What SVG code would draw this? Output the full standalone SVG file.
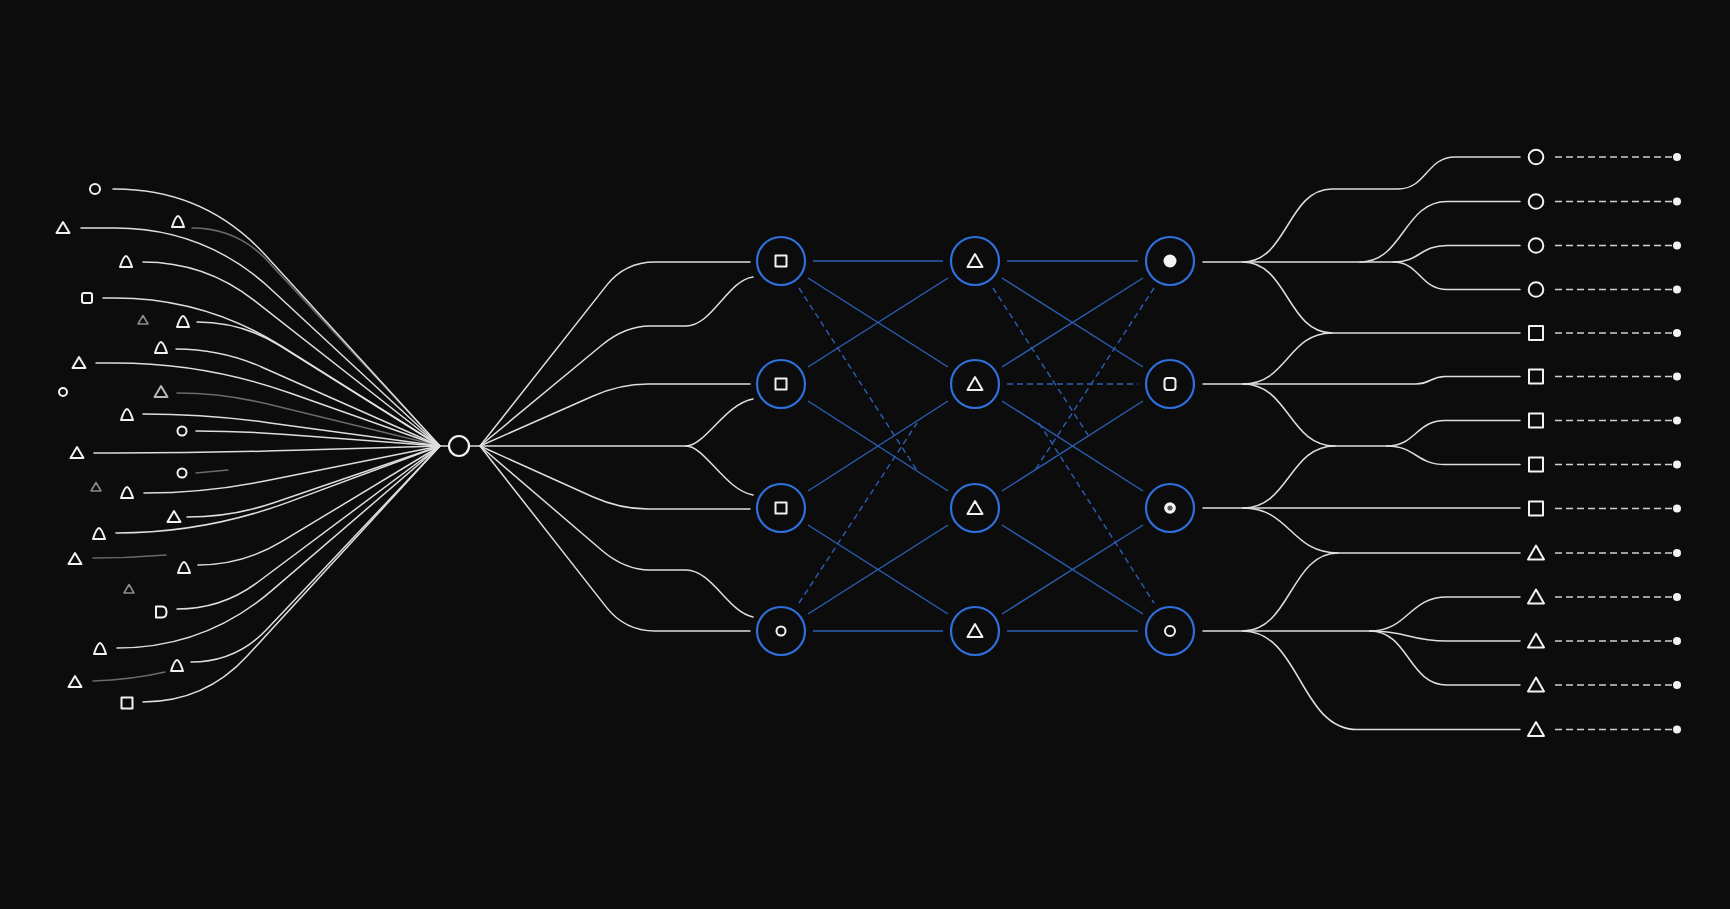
<svg xmlns="http://www.w3.org/2000/svg" xmlns:xlink="http://www.w3.org/1999/xlink" width="1730" height="909" viewBox="0 0 1730 909">
<style>
.bg{fill:#0c0c0c}
.w{fill:none;stroke:#dedede;stroke-width:1.5;stroke-linecap:round;stroke-linejoin:round}
.faint{opacity:.45}
.b{fill:none;stroke:#2b5fb4;stroke-width:1.4}
.bd{fill:none;stroke:#2b5fb4;stroke-width:1.4;stroke-dasharray:6 4}
.ring{fill:#0c0c0c;stroke:#2f70dc;stroke-width:2.2}
.ico{fill:none;stroke:#f2f2f2;stroke-width:2;stroke-linejoin:round}
.ghost{fill:none;stroke:#8a8a8a;stroke-width:1.6;stroke-linejoin:round}
.dash{fill:none;stroke:#cfcfcf;stroke-width:1.5;stroke-dasharray:7 4}
.dot{fill:#f2f2f2}
</style>
<defs>
<path id="tri" d="M0,-6 L6.5,5 L-6.5,5 Z"/>
<path id="dome" d="M-6,5 C-4.5,0.5 -2.2,-6 0,-6 C2.2,-6 4.5,0.5 6,5 Z"/>
<rect id="sq" x="-5.5" y="-5.5" width="11" height="11"/>
<rect id="rsq" x="-5" y="-5" width="10" height="10" rx="2"/>
<path id="dsh" d="M-5,-5.5 H1 Q5.5,-5.5 5.5,0 Q5.5,5.5 1,5.5 H-5 Z"/>
<path id="gtri" d="M0,-4.5 L5,4 L-5,4 Z"/>
<path id="otri" d="M0,-7.5 L8,6.5 L-8,6.5 Z"/>
</defs>
<rect class="bg" x="0" y="0" width="1730" height="909"/>

<g id="connectors">
<!-- input fan into hub -->
<g class="w">
<path d="M113,189 H115 Q205,189 265.7,255.4 L440,446"/>
<path d="M81,228 H115 Q205,228 271,289.2 L440,446"/>
<path class="faint" d="M192,228 Q237,228 267.6,260.9 L440,446"/>
<path d="M143,262 Q205,262 253.8,300.2 L440,446"/>
<path d="M103,298 H115 Q205,298 281.1,346 L440,446"/>
<path d="M197,322 Q242,322 280.2,345.9 L440,446"/>
<path d="M176,349 Q221,349 262.1,367.2 L440,446"/>
<path d="M96,363 H115 Q205,363 289.9,393 L440,446"/>
<path class="faint" d="M177,393 Q222,393 265.7,403.6 L440,446"/>
<path d="M143,414 Q205,414 266.4,422.4 L440,446"/>
<path d="M196,431 Q241,431 285.9,434.4 L440,446"/>
<path d="M94,453 H115 Q205,453 295,450.3 L440,446"/>
<path class="faint" d="M196,473 L228,470"/>
<path d="M144,493 Q205,493 264.8,481 L440,446"/>
<path d="M187,517 Q232,517 274.6,502.5 L440,446"/>
<path d="M116,533 Q205,533 288.5,502.1 L440,446"/>
<path class="faint" d="M93,558 Q130,558 166,555"/>
<path d="M198,565 Q243,565 281.5,541.7 L440,446"/>
<path d="M177,609 Q222,609 258,582 L440,446"/>
<path d="M117,648 Q205,648 271.7,590.6 L440,446"/>
<path d="M191,662 Q236,662 266.9,629.3 L440,446"/>
<path class="faint" d="M93,681 Q130,680 165,672"/>
<path d="M143,702 Q205,702 246.9,656.3 L440,446"/>
<path d="M440,446 H449"/>
</g>
<!-- hub to first layer -->
<g class="w">
<path d="M469,446 H480 L606.4,285.6 Q625,262 655,262 H750"/>
<path d="M480,446 L602,345 Q625,326 650,326 H686 C712,326 728,280 753,277"/>
<path d="M480,446 L592.6,396.2 Q620,384 648,384 H750"/>
<path d="M480,446 H686 C705,446 725,404 753,399"/>
<path d="M686,446 C705,446 725,490 753,495"/>
<path d="M480,446 L592.6,496.7 Q620,509 648,509 H750"/>
<path d="M480,446 L602,550.5 Q625,570 650,570 H686 C712,570 728,612 753,617"/>
<path d="M480,446 L606.5,607.4 Q625,631 655,631 H750"/>
</g>
<!-- layer 1 to layer 2 -->
<g class="b">
<path d="M813,261 H943"/>
<path d="M808,278 L948,367"/>
<path d="M808,367 L948,278"/>
<path d="M808,401 L948,491"/>
<path d="M808,491 L948,401"/>
<path d="M808,525 L948,614"/>
<path d="M808,614 L948,525"/>
<path d="M813,631 H943"/>
</g>
<g class="bd">
<path d="M799,288 L918,472"/>
<path d="M799,603 L917,423"/>
</g>
<!-- layer 2 to layer 3 -->
<g class="b">
<path d="M1007,261 H1138"/>
<path d="M1002,278 L1143,367"/>
<path d="M1002,367 L1143,278"/>
<path d="M1002,401 L1143,491"/>
<path d="M1002,491 L1143,401"/>
<path d="M1002,525 L1143,614"/>
<path d="M1002,614 L1143,525"/>
<path d="M1007,631 H1138"/>
</g>
<g class="bd">
<path d="M1007,384 H1138"/>
<path d="M993,288 L1088,435"/>
<path d="M1154,288 L1035,470"/>
<path d="M1039,423 L1154,603"/>
</g>
<!-- output tree -->
<g class="w">
<path d="M1203,262 H1243 C1287.5,262 1287.5,189 1332,189 H1398 C1426.5,189 1426.5,157 1455,157 H1520"/>
<path d="M1243,262 H1360 C1403.5,262 1403.5,201.5 1447,201.5 H1520"/>
<path d="M1360,262 H1393 C1420,262 1420,245.5 1447,245.5 H1520"/>
<path d="M1393,262 C1420,262 1420,289.5 1447,289.5 H1520"/>
<path d="M1243,262 C1287.5,262 1287.5,333 1332,333 H1520"/>
<path d="M1203,384 H1243 C1287.5,384 1287.5,333 1332,333"/>
<path d="M1243,384 H1416 C1430.5,384 1430.5,376.5 1445,376.5 H1520"/>
<path d="M1243,384 C1289,384 1289,446 1335,446 H1387"/>
<path d="M1387,446 C1416,446 1416,420.5 1445,420.5 H1520"/>
<path d="M1387,446 C1416,446 1416,464.5 1445,464.5 H1520"/>
<path d="M1203,508 H1520"/>
<path d="M1243,508 C1289,508 1289,446 1335,446"/>
<path d="M1243,508 C1290.5,508 1290.5,553 1338,553 H1520"/>
<path d="M1203,631 H1370"/>
<path d="M1243,631 C1290.5,631 1290.5,553 1338,553"/>
<path d="M1370,631 C1408.5,631 1408.5,597 1447,597 H1520"/>
<path d="M1370,631 C1408.5,631 1408.5,641 1447,641 H1520"/>
<path d="M1370,631 C1408.5,631 1408.5,685 1447,685 H1520"/>
<path d="M1243,631 C1300,631 1300,729.5 1357,729.5 H1520"/>
</g>
<g class="dash">
<path d="M1555,157 H1673"/>
<path d="M1555,201.5 H1673"/>
<path d="M1555,245.5 H1673"/>
<path d="M1555,289.5 H1673"/>
<path d="M1555,333 H1673"/>
<path d="M1555,376.5 H1673"/>
<path d="M1555,420.5 H1673"/>
<path d="M1555,464.5 H1673"/>
<path d="M1555,508.5 H1673"/>
<path d="M1555,553 H1673"/>
<path d="M1555,597 H1673"/>
<path d="M1555,641 H1673"/>
<path d="M1555,685 H1673"/>
<path d="M1555,729.5 H1673"/>
</g>
</g>

<!-- input icons -->
<g id="in-01"><circle class="ico" cx="95" cy="189" r="5"/></g>
<g id="in-02"><use class="ico" href="#tri" x="63" y="228"/></g>
<g id="in-03"><use class="ico" href="#dome" x="178" y="222"/></g>
<g id="in-04"><use class="ico" href="#dome" x="126" y="262"/></g>
<g id="in-05"><use class="ico" href="#rsq" x="87" y="298"/></g>
<g id="in-06"><use class="ghost" href="#gtri" x="143" y="320"/></g>
<g id="in-07"><use class="ico" href="#dome" x="183" y="322"/></g>
<g id="in-08"><use class="ico" href="#dome" x="161" y="348"/></g>
<g id="in-09"><use class="ico" href="#tri" x="79" y="363"/></g>
<g id="in-10"><circle class="ico" cx="63" cy="392" r="4"/></g>
<g id="in-11"><use class="ico" href="#tri" x="161" y="392" opacity="0.75"/></g>
<g id="in-12"><use class="ico" href="#dome" x="127" y="415"/></g>
<g id="in-13"><circle class="ico" cx="182" cy="431" r="4.5"/></g>
<g id="in-14"><use class="ico" href="#tri" x="77" y="453"/></g>
<g id="in-15"><circle class="ico" cx="182" cy="473" r="4.5"/></g>
<g id="in-16"><use class="ghost" href="#gtri" x="96" y="487"/></g>
<g id="in-17"><use class="ico" href="#dome" x="127" y="493"/></g>
<g id="in-18"><use class="ico" href="#tri" x="174" y="517"/></g>
<g id="in-19"><use class="ico" href="#dome" x="99" y="534"/></g>
<g id="in-20"><use class="ico" href="#tri" x="75" y="559"/></g>
<g id="in-21"><use class="ico" href="#dome" x="184" y="568"/></g>
<g id="in-22"><use class="ghost" href="#gtri" x="129" y="589"/></g>
<g id="in-23"><use class="ico" href="#dsh" x="161" y="612"/></g>
<g id="in-24"><use class="ico" href="#dome" x="100" y="649"/></g>
<g id="in-25"><use class="ico" href="#dome" x="177" y="666"/></g>
<g id="in-26"><use class="ico" href="#tri" x="75" y="682"/></g>
<g id="in-27"><use class="ico" href="#sq" x="127" y="703"/></g>

<!-- hub -->
<g id="hub"><circle cx="459" cy="446" r="10" fill="#0c0c0c" stroke="#f2f2f2" stroke-width="2.2"/></g>

<!-- layer 1 -->
<g id="l1-r1"><circle class="ring" cx="781" cy="261" r="24"/><rect class="ico" x="775.5" y="255.5" width="11" height="11"/></g>
<g id="l1-r2"><circle class="ring" cx="781" cy="384" r="24"/><rect class="ico" x="775.5" y="378.5" width="11" height="11"/></g>
<g id="l1-r3"><circle class="ring" cx="781" cy="508" r="24"/><rect class="ico" x="775.5" y="502.5" width="11" height="11"/></g>
<g id="l1-r4"><circle class="ring" cx="781" cy="631" r="24"/><circle class="ico" cx="781" cy="631" r="4.5" stroke-width="2.4"/></g>
<!-- layer 2 -->
<g id="l2-r1"><circle class="ring" cx="975" cy="261" r="24"/><path class="ico" d="M975,254 L982.5,267 L967.5,267 Z"/></g>
<g id="l2-r2"><circle class="ring" cx="975" cy="384" r="24"/><path class="ico" d="M975,377 L982.5,390 L967.5,390 Z"/></g>
<g id="l2-r3"><circle class="ring" cx="975" cy="508" r="24"/><path class="ico" d="M975,501 L982.5,514 L967.5,514 Z"/></g>
<g id="l2-r4"><circle class="ring" cx="975" cy="631" r="24"/><path class="ico" d="M975,624 L982.5,637 L967.5,637 Z"/></g>
<!-- layer 3 -->
<g id="l3-r1"><circle class="ring" cx="1170" cy="261" r="24"/><circle cx="1170" cy="261" r="6.5" fill="#f4f4f4"/></g>
<g id="l3-r2"><circle class="ring" cx="1170" cy="384" r="24"/><rect class="ico" x="1164.5" y="378" width="11" height="12" rx="3"/></g>
<g id="l3-r3"><circle class="ring" cx="1170" cy="508" r="24"/><circle cx="1170" cy="508" r="5.8" fill="#f4f4f4"/><circle cx="1170" cy="508" r="2.6" fill="#5a5a5a"/></g>
<g id="l3-r4"><circle class="ring" cx="1170" cy="631" r="24"/><circle class="ico" cx="1170" cy="631" r="5" stroke-width="2.6"/></g>

<!-- outputs -->
<g id="out-01"><circle class="ico" cx="1536" cy="157" r="7.3"/><circle class="dot" cx="1677" cy="157" r="4"/></g>
<g id="out-02"><circle class="ico" cx="1536" cy="201.5" r="7.3"/><circle class="dot" cx="1677" cy="201.5" r="4"/></g>
<g id="out-03"><circle class="ico" cx="1536" cy="245.5" r="7.3"/><circle class="dot" cx="1677" cy="245.5" r="4"/></g>
<g id="out-04"><circle class="ico" cx="1536" cy="289.5" r="7.3"/><circle class="dot" cx="1677" cy="289.5" r="4"/></g>
<g id="out-05"><rect class="ico" x="1529" y="326" width="14" height="14"/><circle class="dot" cx="1677" cy="333" r="4"/></g>
<g id="out-06"><rect class="ico" x="1529" y="369.5" width="14" height="14"/><circle class="dot" cx="1677" cy="376.5" r="4"/></g>
<g id="out-07"><rect class="ico" x="1529" y="413.5" width="14" height="14"/><circle class="dot" cx="1677" cy="420.5" r="4"/></g>
<g id="out-08"><rect class="ico" x="1529" y="457.5" width="14" height="14"/><circle class="dot" cx="1677" cy="464.5" r="4"/></g>
<g id="out-09"><rect class="ico" x="1529" y="501.5" width="14" height="14"/><circle class="dot" cx="1677" cy="508.5" r="4"/></g>
<g id="out-10"><use class="ico" href="#otri" x="1536" y="553"/><circle class="dot" cx="1677" cy="553" r="4"/></g>
<g id="out-11"><use class="ico" href="#otri" x="1536" y="597"/><circle class="dot" cx="1677" cy="597" r="4"/></g>
<g id="out-12"><use class="ico" href="#otri" x="1536" y="641"/><circle class="dot" cx="1677" cy="641" r="4"/></g>
<g id="out-13"><use class="ico" href="#otri" x="1536" y="685"/><circle class="dot" cx="1677" cy="685" r="4"/></g>
<g id="out-14"><use class="ico" href="#otri" x="1536" y="729.5"/><circle class="dot" cx="1677" cy="729.5" r="4"/></g>
</svg>
